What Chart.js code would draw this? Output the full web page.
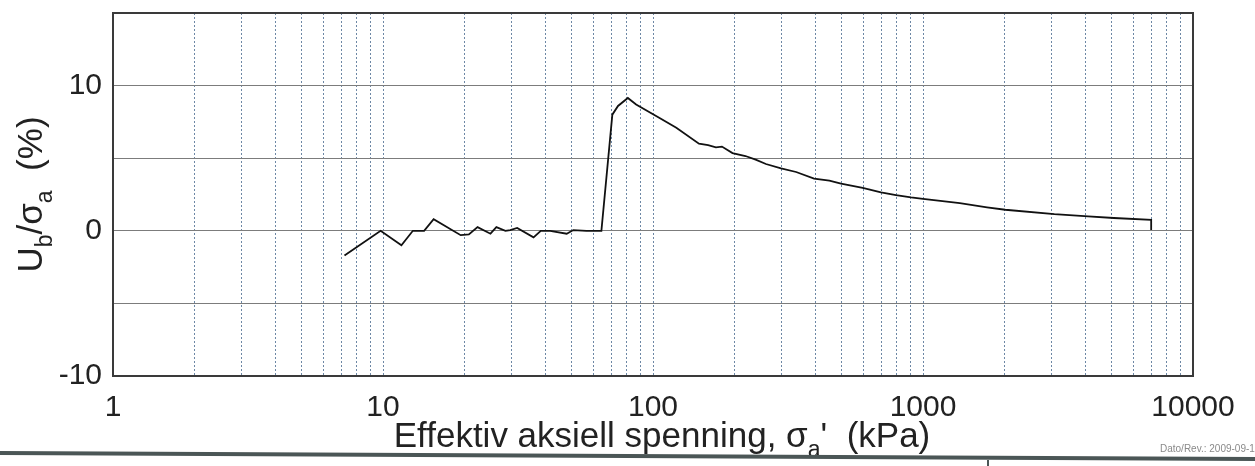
<!DOCTYPE html>
<html>
<head>
<meta charset="utf-8">
<script src="https://cdn.jsdelivr.net/npm/chart.js@4.4.1/dist/chart.umd.min.js"></script>
<style>
  html, body { margin: 0; padding: 0; background: #fff; }
  #wrap { width: 1255px; height: 466px; position: relative; }
</style>
</head>
<body>
<div id="wrap"><canvas id="ubChart"></canvas></div>
<script>
// Effektiv aksiell spenning (kPa)
const stress = [7.2, 9.8, 11.7, 12.9, 14.2, 15.4, 19.4, 20.8, 22.4, 25.0, 26.3, 28.4, 29.6, 31.4,
  36.1, 38.4, 41.6, 47.9, 50.7, 56.7, 64.4, 70.7, 74.2, 80.7, 86.6, 105, 122, 148, 160, 171,
  180, 197, 220, 240, 262, 298, 339, 395, 450, 497, 598, 699, 794, 903, 1000, 1369, 1726,
  2016, 3065, 4090, 5090, 7000, 7000];
// Ub / sigma_a (%)
const ratio = [-1.7, 0.0, -1.0, 0.0, 0.0, 0.8, -0.3, -0.25, 0.25, -0.2, 0.25, 0.0, 0.05, 0.2,
  -0.45, 0.0, 0.0, -0.2, 0.05, 0.0, 0.0, 8.0, 8.6, 9.15, 8.7, 7.8, 7.1, 6.0, 5.9, 5.75,
  5.8, 5.35, 5.15, 4.9, 4.6, 4.3, 4.05, 3.6, 3.45, 3.25, 2.95, 2.65, 2.45, 2.3, 2.2, 1.9, 1.62,
  1.45, 1.15, 1.0, 0.88, 0.75, 0.05];

const xDecades = [1, 10, 100, 1000, 10000];      // labelled x ticks
const yTickLabels = [-10, 0, 10];                 // labelled y ticks

const FONT = "'Liberation Sans', Arial, sans-serif";

// all grid values 1..9 x 10^n
const xGrid = [];
xDecades.slice(0, -1).forEach(d => { for (let m = 1; m <= 9; m++) xGrid.push(m * d); });
xGrid.push(xDecades[xDecades.length - 1]);

// text with subscripts: parts = [[text, isSub], ...], drawn centred on cx at baseline y
function richText(ctx, parts, cx, y, size) {
  const subSize = Math.round(size * 0.65);
  let total = 0;
  const widths = parts.map(([t, sub]) => {
    ctx.font = (sub ? subSize : size) + 'px ' + FONT;
    const w = ctx.measureText(t).width;
    total += w;
    return w;
  });
  let x = cx - total / 2;
  ctx.textAlign = 'left';
  ctx.textBaseline = 'alphabetic';
  parts.forEach(([t, sub], i) => {
    ctx.font = (sub ? subSize : size) + 'px ' + FONT;
    ctx.fillText(t, x, sub ? y + size * 0.28 : y);
    x += widths[i];
  });
}

const decor = {
  id: 'decor',
  afterDraw(chart) {
    const { ctx, chartArea: a } = chart;
    ctx.save();
    // plot frame
    ctx.strokeStyle = '#3a3a3a';
    ctx.lineWidth = 2;
    ctx.strokeRect(a.left, a.top, a.right - a.left, a.bottom - a.top);

    ctx.fillStyle = '#222';
    // x axis title
    richText(ctx, [['Effektiv aksiell spenning, \u03c3', false], ['a', true], ["'  (kPa)", false]],
      662, 447, 35);
    // y axis title
    ctx.save();
    ctx.translate(42, (a.top + a.bottom) / 2);
    ctx.rotate(-Math.PI / 2);
    richText(ctx, [['U', false], ['b', true], ['/\u03c3', false], ['a', true], ['  (%)', false]],
      0, 0, 35);
    ctx.restore();

    // page footer line
    ctx.strokeStyle = '#4b5656';
    ctx.lineWidth = 4;
    ctx.beginPath();
    ctx.moveTo(0, 453);
    ctx.lineTo(1255, 459);
    ctx.stroke();
    ctx.lineWidth = 2;
    ctx.beginPath();
    ctx.moveTo(988, 460);
    ctx.lineTo(988, 466);
    ctx.stroke();

    ctx.fillStyle = '#8a8a8a';
    ctx.font = '10px ' + FONT;
    ctx.textAlign = 'left';
    ctx.fillText('Dato/Rev.: 2009-09-1', 1160, 452);
    ctx.restore();
  }
};

new Chart(document.getElementById('ubChart'), {
  type: 'scatter',
  data: {
    datasets: [{
      data: stress.map((s, i) => ({ x: s, y: ratio[i] })),
      showLine: true,
      borderColor: '#111',
      borderWidth: 1.8,
      pointRadius: 0,
      tension: 0
    }]
  },
  options: {
    responsive: true,
    maintainAspectRatio: false,
    animation: false,
    layout: { padding: { top: 13, right: 62, left: 0, bottom: 0 } },
    plugins: { legend: { display: false }, tooltip: { enabled: false } },
    scales: {
      x: {
        type: 'logarithmic',
        min: 1,
        max: 10000,
        afterBuildTicks: scale => { scale.ticks = xGrid.map(v => ({ value: v })); },
        afterFit: scale => { scale.height = 90; scale.paddingLeft = 0; scale.paddingRight = 0; },
        grid: { color: 'rgba(60, 95, 135, 0.75)', lineWidth: 1, drawTicks: false },
        border: { display: false, dash: [2, 2] },
        ticks: {
          autoSkip: false,
          maxRotation: 0,
          padding: 14,
          color: '#222',
          font: { family: FONT, size: 30 },
          callback: v => xDecades.includes(v) ? String(v) : ''
        }
      },
      y: {
        min: -10,
        max: 15,
        afterFit: scale => { scale.width = 113; scale.paddingTop = 0; scale.paddingBottom = 0; },
        grid: { color: '#7c7c7c', lineWidth: 1, drawTicks: false },
        border: { display: false },
        ticks: {
          stepSize: 5,
          padding: 11,
          color: '#222',
          font: { family: FONT, size: 30 },
          callback: v => yTickLabels.includes(v) ? String(v) : ''
        }
      }
    }
  },
  plugins: [decor]
});
</script>
</body>
</html>
